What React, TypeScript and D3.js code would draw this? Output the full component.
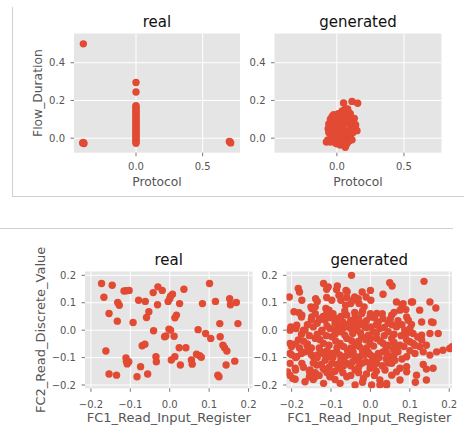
import React from 'react';
import * as d3 from 'd3';

const FONT = '"DejaVu Sans", Verdana, sans-serif';
const RED = '#E24A33';
const BG = '#E5E5E5';
const TXT = '#555555';

// ---------- data ----------
const topXTicks = [0.0, 0.5];
const topYTicks = [0.0, 0.2, 0.4];
const botTicks = [-0.2, -0.1, 0.0, 0.1, 0.2];

const realTopPoints: [number, number][] = [
  [-0.395, 0.5], [-0.4, -0.025], [-0.39, -0.028], [-0.395, -0.022],
  [0, 0.295], [0, 0.245], [0, 0.172], [0, 0.165], [0, 0.158], [0, 0.15], [0, 0.141],
  [0, 0.133], [0, 0.124], [0, 0.117], [0, 0.108], [0, 0.1], [0, 0.092], [0, 0.083],
  [0, 0.076], [0, 0.068], [0, 0.06], [0, 0.051], [0, 0.043], [0, 0.036], [0, 0.028],
  [0, 0.02], [0, 0.012], [0, 0.004], [0, -0.004], [0, -0.012], [0, -0.019], [0, -0.027],
  [0.7, -0.018], [0.71, -0.025], [0.705, -0.02],
];

const genTopPoints: [number, number][] = [
  [0.05, 0.187], [0.113, 0.195], [0.155, 0.185], [0.063, 0.155], [0.085, 0.14], [0.04, 0.145],
  [0.01, 0.13], [-0.024, 0.124], [0.03, 0.12], [0.076, 0.124], [0.1, 0.11], [-0.048, 0.1],
  [-0.03, 0.095], [0.0, 0.1], [0.055, 0.105], [0.125, 0.09], [0.09, 0.085], [-0.06, 0.075],
  [-0.02, 0.07], [0.02, 0.08], [0.06, 0.075], [0.11, 0.065], [0.137, 0.05], [-0.065, 0.05],
  [-0.04, 0.045], [0.0, 0.055], [0.04, 0.05], [0.08, 0.04], [0.12, 0.03], [-0.05, 0.025],
  [-0.01, 0.03], [0.03, 0.02], [0.07, 0.015], [0.1, 0.01], [-0.068, -0.01], [-0.03, 0.0],
  [0.01, -0.005], [0.05, -0.01], [0.09, -0.015], [-0.048, -0.02], [-0.01, -0.025], [0.026, -0.036],
  [0.063, -0.048], [0.04, -0.03], [0.075, -0.03], [0.113, -0.009], [-0.078, -0.02], [0.0, -0.03],
  [0.14, 0.07], [0.15, 0.04], [-0.055, 0.06], [0.02, 0.11], [0.045, 0.085], [0.07, 0.1],
  [-0.035, 0.115], [0.08, 0.155], [0.1, 0.13], [-0.06, 0.03], [0.11, 0.045], [0.02, -0.02],
  [0.05, 0.025], [-0.02, 0.01], [0.06, 0.13], [0.13, 0.105],
];

const realBotPoints: [number, number][] = [
  [-0.173, 0.17], [-0.146, 0.164], [-0.167, 0.12], [-0.154, 0.061], [-0.132, 0.101], [-0.128, 0.091],
  [-0.133, 0.033], [-0.116, 0.143], [-0.11, 0.144], [-0.103, 0.145], [-0.093, 0.028], [-0.079, 0.109],
  [-0.062, 0.105], [-0.053, 0.067], [-0.059, 0.046], [-0.042, 0.137], [-0.03, 0.158], [-0.019, 0.145],
  [-0.031, 0.093], [-0.041, -0.002], [-0.004, 0.105], [0.0, 0.115], [0.007, 0.131], [0.002, 0.124],
  [0.025, 0.097], [0.036, 0.149], [0.017, 0.055], [0.013, 0.045], [-0.002, 0.004], [0.002, 0.0],
  [-0.01, -0.021], [0.011, -0.022], [0.024, -0.064], [0.041, -0.064], [0.004, -0.109], [0.013, -0.097],
  [0.027, -0.127], [0.055, -0.109], [0.057, -0.124], [0.068, -0.088], [0.076, -0.093], [0.072, 0.002],
  [0.091, -0.012], [0.104, -0.03], [0.101, 0.17], [0.083, 0.097], [0.116, 0.105], [0.127, 0.024],
  [0.128, -0.024], [0.135, -0.055], [0.139, -0.064], [0.145, -0.076], [0.143, -0.127], [0.165, -0.113],
  [0.122, -0.164], [0.125, -0.17], [0.152, 0.115], [0.154, 0.093], [0.169, 0.101], [0.173, 0.024],
  [-0.162, -0.076], [-0.154, -0.16], [-0.135, -0.164], [-0.111, -0.101], [-0.11, -0.113], [-0.108, -0.123],
  [-0.104, -0.115], [-0.083, -0.17], [-0.074, -0.133], [-0.056, -0.16], [-0.07, -0.057], [-0.063, -0.051],
  [-0.035, -0.097], [-0.034, -0.115], [-0.013, -0.024], [0.08, -0.099],
];

const genBotPoints: [number, number][] = [
  [-0.048, 0.2], [-0.119, 0.17], [-0.107, 0.158], [-0.086, 0.148], [-0.062, 0.145], [0.049, 0.173],
  [0.055, 0.161], [0.136, 0.178], [-0.183, 0.152], [-0.18, 0.139], [-0.084, 0.161], [-0.111, 0.149],
  [-0.059, 0.14], [-0.021, 0.139], [0.0, 0.145],
  [-0.206, 0.121], [-0.174, 0.109], [-0.149, 0.079], [-0.14, 0.085], [-0.111, 0.119], [-0.098, 0.109],
  [-0.077, 0.127], [-0.06, 0.119], [-0.044, 0.109], [-0.031, 0.115], [-0.011, 0.121], [0.001, 0.109],
  [0.032, 0.131], [0.066, 0.103], [0.083, 0.097], [0.104, 0.103], [0.125, 0.073], [0.151, 0.103],
  [0.166, 0.081], [-0.139, 0.115], [-0.135, 0.105], [-0.151, 0.085], [-0.04, 0.121], [-0.08, 0.127],
  [-0.075, 0.109], [-0.113, 0.079], [-0.105, 0.073], [-0.063, 0.091], [-0.05, 0.097], [-0.029, 0.097],
  [-0.016, 0.085], [0.107, 0.103], [0.08, 0.09], [0.09, 0.075],
  [-0.194, 0.067], [-0.174, 0.055], [-0.181, 0.064], [-0.175, 0.048], [-0.149, 0.048], [-0.128, 0.042],
  [-0.111, 0.061], [-0.086, 0.042], [-0.06, 0.055], [-0.039, 0.048], [-0.022, 0.061], [-0.001, 0.048],
  [0.016, 0.061], [0.032, 0.042], [0.054, 0.055], [0.075, 0.073], [0.092, 0.048], [0.13, 0.03],
  [0.155, 0.03], [0.104, 0.021], [0.096, 0.036], [0.159, 0.028], [-0.04, 0.065], [-0.02, 0.07],
  [0.0, 0.06], [-0.15, 0.038], [-0.13, 0.038], [-0.115, 0.036], [-0.07, 0.03], [-0.05, 0.035],
  [0.02, 0.03], [0.045, 0.025], [0.07, 0.035],
  [-0.204, 0.0], [-0.202, 0.012], [-0.189, 0.006], [-0.187, 0.018], [-0.166, 0.0], [-0.145, 0.012],
  [-0.124, -0.006], [-0.103, 0.006], [-0.077, -0.006], [-0.056, 0.012], [-0.035, 0.0], [-0.014, 0.012],
  [0.007, -0.006], [0.024, 0.006], [0.045, -0.006], [0.066, 0.012], [0.087, 0.0], [0.108, -0.012],
  [0.13, -0.018], [0.151, -0.012], [0.172, -0.012], [0.092, -0.012], [-0.09, 0.0], [-0.08, 0.018],
  [-0.07, 0.006], [-0.05, 0.006], [-0.03, 0.018], [-0.01, 0.01], [0.0, 0.012], [-0.17, 0.0], [-0.123, 0.0],
  [-0.204, -0.048], [-0.183, -0.036], [-0.161, -0.055], [-0.14, -0.03], [-0.119, -0.048], [-0.098, -0.024],
  [-0.077, -0.048], [-0.06, -0.03], [-0.039, -0.055], [-0.022, -0.024], [-0.001, -0.048], [0.016, -0.03],
  [0.032, -0.048], [0.054, -0.03], [0.075, -0.055], [0.092, -0.036], [0.108, -0.048], [0.13, -0.036],
  [0.142, -0.055], [0.184, -0.073], [0.201, -0.067], [0.207, -0.06], [0.168, -0.079], [0.151, -0.091],
  [0.134, -0.079], [0.125, -0.06], [0.113, -0.055], [0.1, -0.042], [-0.2, -0.06], [-0.18, -0.065],
  [-0.16, -0.05], [-0.13, -0.065], [-0.11, -0.075], [-0.085, -0.065], [-0.05, -0.065], [-0.03, -0.04],
  [-0.01, -0.065], [0.0, -0.03], [0.04, -0.065], [0.06, -0.045],
  [-0.204, -0.085], [-0.187, -0.097], [-0.166, -0.079], [-0.145, -0.097], [-0.124, -0.079], [-0.107, -0.097],
  [-0.086, -0.079], [-0.065, -0.097], [-0.044, -0.079], [-0.027, -0.097], [-0.006, -0.079], [0.011, -0.097],
  [0.032, -0.079], [0.049, -0.097], [0.07, -0.079], [0.092, -0.097], [0.113, -0.085], [-0.2, -0.09],
  [-0.19, -0.1], [-0.15, -0.09], [-0.135, -0.09], [-0.115, -0.11], [-0.095, -0.1], [-0.075, -0.11],
  [-0.055, -0.09], [-0.035, -0.11], [-0.015, -0.09], [0.005, -0.11], [0.02, -0.085], [0.04, -0.105],
  [0.06, -0.09], [0.08, -0.105],
  [-0.204, -0.121], [-0.191, -0.139], [-0.174, -0.121], [-0.153, -0.145], [-0.136, -0.127], [-0.115, -0.145],
  [-0.098, -0.121], [-0.077, -0.139], [-0.06, -0.121], [-0.039, -0.145], [-0.022, -0.121], [-0.001, -0.139],
  [0.016, -0.121], [0.037, -0.145], [0.054, -0.121], [0.075, -0.139], [0.159, -0.139], [0.134, -0.125],
  [0.142, -0.142], [0.092, -0.133], [0.092, -0.152], [0.066, -0.152], [-0.21, -0.152], [-0.19, -0.145],
  [-0.155, -0.15], [-0.14, -0.155], [-0.12, -0.14], [-0.09, -0.15], [-0.05, -0.13], [-0.03, -0.135],
  [0.0, -0.125], [0.03, -0.13],
  [-0.191, -0.179], [-0.204, -0.165], [-0.197, -0.176], [-0.166, -0.188], [-0.14, -0.17], [-0.119, -0.194],
  [-0.103, -0.17], [-0.077, -0.194], [-0.06, -0.17], [-0.039, -0.2], [-0.018, -0.176], [0.003, -0.2],
  [0.024, -0.182], [0.041, -0.2], [0.117, -0.164], [0.114, -0.19], [0.142, -0.182], [0.075, -0.182],
  [0.054, -0.164], [0.041, -0.194], [0.024, -0.2], [-0.155, -0.17], [-0.145, -0.18], [-0.09, -0.18],
  [-0.1, -0.16], [-0.02, -0.19], [0.01, -0.165],
  // dense core
  [-0.14, 0.06], [-0.12, 0.05], [-0.1, 0.045], [-0.095, 0.06], [-0.075, 0.05], [-0.065, 0.07],
  [-0.045, 0.03], [-0.03, 0.04], [-0.01, 0.035], [0.01, 0.045], [0.03, 0.06], [0.05, 0.04], [0.06, 0.065],
  [-0.16, 0.02], [-0.135, 0.025], [-0.11, 0.015], [-0.09, 0.025], [-0.06, 0.02], [-0.04, 0.015],
  [-0.02, 0.025], [0.015, 0.02], [0.035, 0.01], [0.055, 0.02], [0.08, 0.02], [0.1, 0.005],
  [-0.175, -0.015], [-0.155, -0.02], [-0.135, -0.015], [-0.112, -0.02], [-0.09, -0.015], [-0.065, -0.018],
  [-0.045, -0.012], [-0.025, -0.01], [-0.005, -0.018], [0.015, -0.012], [0.035, -0.02], [0.06, -0.015],
  [0.078, -0.02], [0.12, -0.025],
  [-0.19, -0.05], [-0.17, -0.04], [-0.15, -0.065], [-0.128, -0.035], [-0.105, -0.055], [-0.088, -0.04],
  [-0.068, -0.06], [-0.048, -0.038], [-0.028, -0.06], [-0.012, -0.035], [0.008, -0.058], [0.025, -0.04],
  [0.045, -0.055], [0.065, -0.068], [0.085, -0.06],
  [-0.175, -0.085], [-0.155, -0.075], [-0.135, -0.1], [-0.118, -0.088], [-0.098, -0.085], [-0.078, -0.09],
  [-0.058, -0.075], [-0.04, -0.095], [-0.02, -0.075], [0.0, -0.09], [0.022, -0.1], [0.042, -0.085],
  [0.058, -0.07], [0.1, -0.075],
  [-0.17, -0.135], [-0.145, -0.12], [-0.125, -0.125], [-0.105, -0.135], [-0.085, -0.125], [-0.068, -0.13],
  [-0.045, -0.115], [-0.012, -0.115], [0.008, -0.135], [0.045, -0.12], [0.062, -0.11],
  [-0.13, -0.165], [-0.11, -0.155], [-0.07, -0.155], [-0.05, -0.165], [-0.03, -0.155], [-0.01, -0.16],
  [0.015, -0.15],
];

const fmt = d3.format('.1f');

type PanelProps = {
  id: string;
  left: number; top: number; width: number; height: number;
  xDomain: [number, number]; yDomain: [number, number];
  xTicks: number[]; yTicks: number[];
  points: [number, number][];
  title: string; xLabel: string; yLabel?: string;
  yLabelX?: number;
  titleBase: number; xTickBase: number; xLabelBase: number;
  labelSize: number;
};

function Panel(p: PanelProps) {
  const x = d3.scaleLinear().domain(p.xDomain).range([p.left, p.left + p.width]);
  const y = d3.scaleLinear().domain(p.yDomain).range([p.top + p.height, p.top]);
  const bottom = p.top + p.height;
  const cx = p.left + p.width / 2;
  const cy = p.top + p.height / 2;
  return (
    <g>
      <defs>
        <clipPath id={p.id}>
          <rect x={p.left} y={p.top} width={p.width} height={p.height} />
        </clipPath>
      </defs>
      <rect x={p.left} y={p.top} width={p.width} height={p.height} fill={BG} />
      {p.xTicks.map((t) => (
        <line key={'gx' + t} x1={x(t)} x2={x(t)} y1={p.top} y2={bottom} stroke="#fff" strokeWidth={1} />
      ))}
      {p.yTicks.map((t) => (
        <line key={'gy' + t} x1={p.left} x2={p.left + p.width} y1={y(t)} y2={y(t)} stroke="#fff" strokeWidth={1} />
      ))}
      <g clipPath={`url(#${p.id})`}>
        {p.points.map((d, i) => (
          <circle key={i} cx={x(d[0])} cy={y(d[1])} r={3.7} fill={RED} />
        ))}
      </g>
      {p.xTicks.map((t) => (
        <g key={'tx' + t}>
          <line x1={x(t)} x2={x(t)} y1={bottom} y2={bottom + 3.5} stroke={TXT} strokeWidth={0.8} />
          <text x={x(t)} y={p.xTickBase} textAnchor="middle" fontSize={10} fill={TXT} fontFamily={FONT}>
            {fmt(t)}
          </text>
        </g>
      ))}
      {p.yTicks.map((t) => (
        <g key={'ty' + t}>
          <line x1={p.left - 3.5} x2={p.left} y1={y(t)} y2={y(t)} stroke={TXT} strokeWidth={0.8} />
          <text x={p.left - 9} y={y(t)} dy="0.35em" textAnchor="end" fontSize={10} fill={TXT} fontFamily={FONT}>
            {fmt(t)}
          </text>
        </g>
      ))}
      <text x={cx} y={p.titleBase} textAnchor="middle" fontSize={15} fill="#111" fontFamily={FONT}>
        {p.title}
      </text>
      <text x={cx} y={p.xLabelBase} textAnchor="middle" fontSize={p.labelSize} fill={TXT} fontFamily={FONT}>
        {p.xLabel}
      </text>
      {p.yLabel && (
        <text
          transform={`translate(${p.yLabelX},${cy}) rotate(-90)`}
          textAnchor="middle"
          fontSize={p.labelSize}
          fill={TXT}
          fontFamily={FONT}
        >
          {p.yLabel}
        </text>
      )}
    </g>
  );
}

export default function App() {
  const topY: [number, number] = [-0.077, 0.555];
  const topX: [number, number] = [-0.465, 0.78];
  return (
    <svg
      width={464}
      height={436}
      style={{ position: 'absolute', left: 0, top: 0, background: '#fff' }}
    >
      <rect x={0} y={0} width={464} height={436} fill="#fff" />
      <line x1={12.5} x2={12.5} y1={7} y2={196.5} stroke="#cfcfcf" strokeWidth={1} />
      <line x1={12.5} x2={464} y1={196.5} y2={196.5} stroke="#cfcfcf" strokeWidth={1} />
      <line x1={0} x2={453} y1={228.5} y2={228.5} stroke="#d0d0d0" strokeWidth={1} />

      <Panel
        id="c1" left={74} top={33.5} width={166} height={119.2}
        xDomain={topX} yDomain={topY} xTicks={topXTicks} yTicks={topYTicks}
        points={realTopPoints} title="real" xLabel="Protocol" yLabel="Flow_Duration" yLabelX={41.5}
        titleBase={27} xTickBase={170} xLabelBase={185.5} labelSize={12.3}
      />
      <Panel
        id="c2" left={274.5} top={33.5} width={167} height={119.2}
        xDomain={topX} yDomain={topY} xTicks={topXTicks} yTicks={topYTicks}
        points={genTopPoints} title="generated" xLabel="Protocol"
        titleBase={27} xTickBase={170} xLabelBase={185.5} labelSize={12.3}
      />
      <Panel
        id="c3" left={85} top={271.5} width={167.5} height={116.8}
        xDomain={[-0.215, 0.21]} yDomain={[-0.212, 0.214]} xTicks={botTicks} yTicks={botTicks}
        points={realBotPoints} title="real" xLabel="FC1_Read_Input_Register"
        yLabel="FC2_Read_Discrete_Value" yLabelX={44.5}
        titleBase={265} xTickBase={407.5} xLabelBase={422} labelSize={13}
      />
      <Panel
        id="c4" left={286.5} top={271.5} width={165.5} height={116.8}
        xDomain={[-0.213, 0.207]} yDomain={[-0.212, 0.214]} xTicks={botTicks} yTicks={botTicks}
        points={genBotPoints} title="generated" xLabel="FC1_Read_Input_Register"
        titleBase={265} xTickBase={407.5} xLabelBase={422} labelSize={13}
      />
    </svg>
  );
}
